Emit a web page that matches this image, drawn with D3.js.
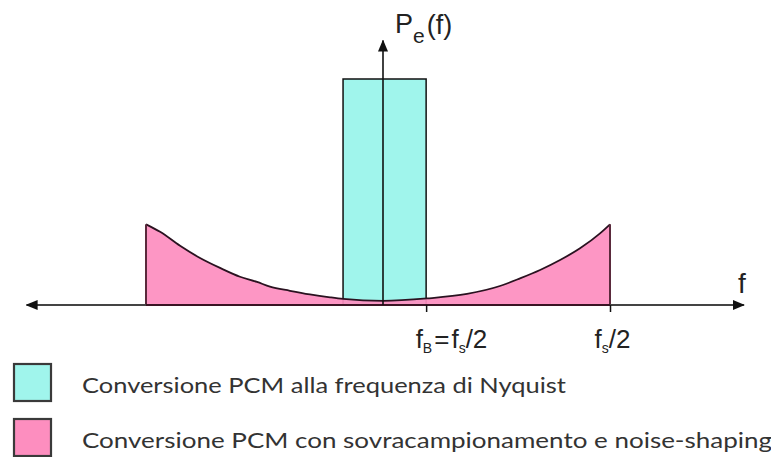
<!DOCTYPE html>
<html>
<head>
<meta charset="utf-8">
<script src="https://cdn.jsdelivr.net/npm/d3@7"></script>
<style>
  body { margin: 0; background: #fff; }
  svg { display: block; }
</style>
</head>
<body>
<div id="chart"></div>
<script>
// noise-shaped spectrum (f in units of fs/2, level relative to Nyquist bar height)
const freq = [-1.044, -0.982, -0.894, -0.806, -0.718, -0.630, -0.555, -0.498, -0.410, -0.322, -0.233, -0.176, 0, 0.194, 0.370, 0.515, 0.604, 0.692, 0.780, 0.868, 0.956, 1.0];
const level = [0.357, 0.324, 0.262, 0.208, 0.164, 0.125, 0.102, 0.081, 0.063, 0.047, 0.034, 0.027, 0.018, 0.029, 0.049, 0.084, 0.118, 0.155, 0.199, 0.251, 0.317, 0.357];

// Nyquist PCM bar
const barRange = [-0.176, 0.19];
const barLevel = 1;

// axes
const xExtent = [-1.57, 1.59];
const yTop = 1.17;
const tickValues = [0.19, 1];
const tickLabels = [
    [["f", 0], ["B", 1], ["=", 0], ["f", 0], ["s", 1], ["/2", 0]],
    [["f", 0], ["s", 1], ["/2", 0]]
];

const legendLabels = [
    "Conversione PCM alla frequenza di Nyquist",
    "Conversione PCM con sovracampionamento e noise-shaping"
];
const legendColors = ["#a0f5ec", "#fd8ebf"];

const width = 771, height = 457;

const x = d3.scaleLinear().domain([0, 1]).range([383, 610]);
const y = d3.scaleLinear().domain([0, 1]).range([305, 79]);

const svg = d3.select('#chart').append('svg')
    .attr('width', width)
    .attr('height', height)
    .attr('viewBox', [0, 0, width, height]);

const defs = svg.append('defs');
defs.append('marker')
    .attr('id', 'arrow')
    .attr('viewBox', '0 0 12 10')
    .attr('refX', 11)
    .attr('refY', 5)
    .attr('markerWidth', 12)
    .attr('markerHeight', 10)
    .attr('markerUnits', 'userSpaceOnUse')
    .attr('orient', 'auto-start-reverse')
    .append('path')
    .attr('d', 'M0,0 L12,5 L0,10 Z')
    .attr('fill', '#111');

const pts = freq.map((f, i) => [f, level[i]]);

// bar
svg.append('rect')
    .attr('x', x(barRange[0]))
    .attr('y', y(barLevel))
    .attr('width', x(barRange[1]) - x(barRange[0]))
    .attr('height', y(0) - y(barLevel))
    .attr('fill', legendColors[0])
    .attr('stroke', '#111')
    .attr('stroke-width', 1.5);

// noise-shaped area
const area = d3.area()
    .curve(d3.curveMonotoneX)
    .x(d => x(d[0]))
    .y0(y(0))
    .y1(d => y(d[1]));

svg.append('path')
    .attr('d', area(pts))
    .attr('fill', legendColors[1])
    .attr('fill-opacity', 0.93);

const line = d3.line()
    .curve(d3.curveMonotoneX)
    .x(d => x(d[0]))
    .y(d => y(d[1]));

svg.append('path')
    .attr('d', line(pts))
    .attr('fill', 'none')
    .attr('stroke', '#2a1220')
    .attr('stroke-width', 1.8);

// side edges of the shaped area
svg.append('g')
    .selectAll('line')
    .data([pts[0], pts[pts.length - 1]])
    .join('line')
    .attr('x1', d => x(d[0]))
    .attr('x2', d => x(d[0]))
    .attr('y1', d => y(d[1]))
    .attr('y2', y(0))
    .attr('stroke', '#5a2a3c')
    .attr('stroke-width', 2);

// horizontal axis with arrows at both ends
svg.append('line')
    .attr('x1', x(xExtent[0]))
    .attr('x2', x(xExtent[1]))
    .attr('y1', y(0))
    .attr('y2', y(0))
    .attr('stroke', '#444')
    .attr('stroke-width', 2.2)
    .attr('marker-start', 'url(#arrow)')
    .attr('marker-end', 'url(#arrow)');

// darker base under the pink area
svg.append('line')
    .attr('x1', x(freq[0]))
    .attr('x2', x(freq[freq.length - 1]))
    .attr('y1', y(0))
    .attr('y2', y(0))
    .attr('stroke', '#3a1424')
    .attr('stroke-width', 2.2);

// vertical axis
svg.append('line')
    .attr('x1', x(0))
    .attr('x2', x(0))
    .attr('y1', y(0))
    .attr('y2', y(yTop))
    .attr('stroke', '#111')
    .attr('stroke-width', 1.6)
    .attr('marker-end', 'url(#arrow)');

// ticks
const xAxis = d3.axisBottom(x)
    .tickValues(tickValues)
    .tickSize(7)
    .tickFormat('');

const ax = svg.append('g')
    .attr('transform', `translate(0,${y(0)})`)
    .call(xAxis)
    .call(g => g.select('.domain').remove())
    .call(g => g.selectAll('.tick line').attr('stroke', '#111').attr('stroke-width', 1.5));

ax.selectAll('.tick')
    .append('text')
    .attr('fill', '#222')
    .attr('font-family', 'Liberation Sans, Arial, sans-serif')
    .attr('font-size', 26)
    .attr('y', 43)
    .attr('text-anchor', 'start')
    .attr('x', (d, i) => i === 0 ? -13 : -18)
    .each(function (d, i) {
        const t = d3.select(this);
        let prev = 0;
        tickLabels[i].forEach(([s, sub]) => {
            t.append('tspan')
                .attr('dy', (sub - prev) * 5)
                .attr('dx', s === '=' || (s === 'f' && prev === 0 && t.selectAll('tspan').size() > 0) ? 2 : 0)
                .attr('font-size', sub ? 14 : 26)
                .text(s);
            prev = sub;
        });
    });

// axis titles
const pLabel = svg.append('text')
    .attr('x', 395)
    .attr('y', 33)
    .attr('fill', '#222')
    .attr('font-family', 'Liberation Sans, Arial, sans-serif')
    .attr('font-size', 27);
pLabel.append('tspan').text('P');
pLabel.append('tspan').attr('dy', 10).attr('font-size', 21).text('e');
pLabel.append('tspan').attr('dy', -9).attr('dx', 2).text('(f)');

svg.append('text')
    .attr('x', 738)
    .attr('y', 293)
    .attr('fill', '#222')
    .attr('font-family', 'Liberation Sans, Arial, sans-serif')
    .attr('font-size', 28)
    .text('f');

// legend
const legend = svg.append('g')
    .selectAll('g')
    .data(legendLabels)
    .join('g')
    .attr('transform', (d, i) => `translate(14,${364 + i * 55})`);

legend.append('rect')
    .attr('width', 37)
    .attr('height', 37)
    .attr('fill', (d, i) => legendColors[i])
    .attr('stroke', '#3a3a3a')
    .attr('stroke-width', 2.2);

legend.append('text')
    .attr('x', 68)
    .attr('y', 29)
    .attr('fill', '#333')
    .attr('font-family', '"Century Gothic", "URW Gothic", Lato, sans-serif')
    .attr('font-size', 22)
    .attr('textLength', (d, i) => i === 0 ? 484 : 690)
    .attr('lengthAdjust', 'spacingAndGlyphs')
    .text(d => d);
</script>
</body>
</html>
